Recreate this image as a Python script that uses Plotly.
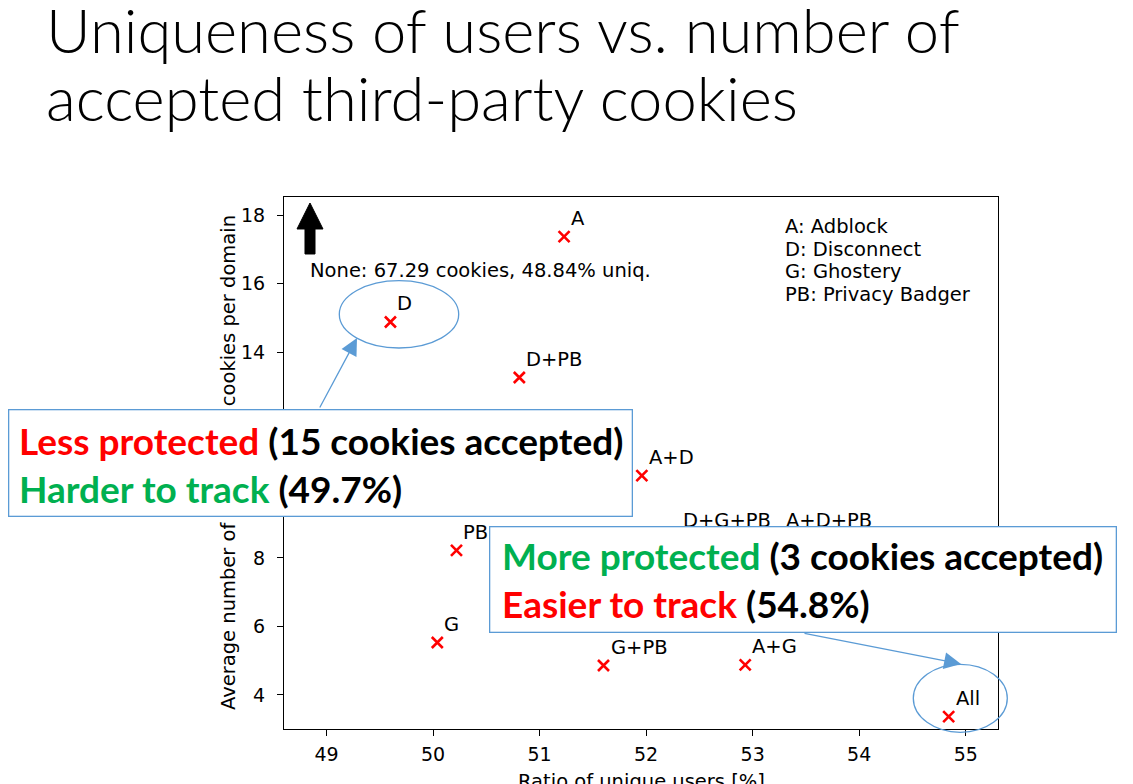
import plotly.graph_objects as go

# ---------------- data ----------------
combos = ["A", "D", "D+PB", "A+D", "PB", "D+G+PB", "A+D+PB", "G", "G+PB", "A+G", "All"]
unique_ratio = [51.23, 49.60, 50.81, 51.96, 50.22, 52.28, 53.25, 50.04, 51.60, 52.93, 54.84]
avg_cookies = [17.37, 14.88, 13.26, 10.40, 8.22, 8.55, 8.55, 5.53, 4.86, 4.88, 3.37]

x_ticks = [49, 50, 51, 52, 53, 54, 55]
y_ticks = [4, 6, 8, 10, 12, 14, 16, 18]

legend_lines = ["A: Adblock", "D: Disconnect", "G: Ghostery", "PB: Privacy Badger"]
none_note = "None: 67.29 cookies, 48.84% uniq."
title_lines = ["Uniqueness of users vs. number of", "accepted third-party cookies"]
x_title = "Ratio of unique users [%]"
y_title = "Average number of third-party cookies per domain"

RED = "#FF0000"
GREEN = "#00B050"
BLUE = "#5B9BD5"

box1_lines = [
    f"<b><span style='color:{RED}'>Less protected</span> (15 cookies accepted)</b>",
    f"<b><span style='color:{GREEN}'>Harder to track</span> (49.7%)</b>",
]
box2_lines = [
    f"<b><span style='color:{GREEN}'>More protected</span> (3 cookies accepted)</b>",
    f"<b><span style='color:{RED}'>Easier to track</span> (54.8%)</b>",
]

# ---------------- layout geometry ----------------
W, H = 1133, 784
ML, MR, MT, MB = 284, 135, 197, 55
PW, PH = W - ML - MR, H - MT - MB


def px(x):
    return (x - ML) / PW


def py(y):
    return (H - MB - y) / PH


AX_FONT = dict(family="DejaVu Sans", size=19.5, color="black")
TICK_FONT = dict(family="DejaVu Sans", size=19, color="black")
BOX_FONT = dict(family="Lato", size=37, color="black")

fig = go.Figure()
fig.add_trace(go.Scatter(
    x=unique_ratio, y=avg_cookies, mode="markers",
    marker=dict(symbol="x-thin", size=11, line=dict(width=2.6, color=RED), color=RED),
    hoverinfo="skip", showlegend=False,
))

annotations = []
# y-axis title (drawn first so the callout box covers it)
annotations.append(dict(text=y_title, x=px(228), y=py(463), xref="paper", yref="paper",
                        textangle=-90, showarrow=False, font=AX_FONT,
                        xanchor="center", yanchor="middle"))
annotations.append(dict(text=x_title, x=px(641), y=py(781), xref="paper", yref="paper",
                        showarrow=False, font=AX_FONT, xanchor="center", yanchor="middle"))
# point labels
for name, xv, yv in zip(combos, unique_ratio, avg_cookies):
    annotations.append(dict(text=name, x=xv, y=yv, xref="x", yref="y", showarrow=False,
                            xanchor="left", yanchor="middle", xshift=5, yshift=18,
                            font=AX_FONT))
# note and legend
annotations.append(dict(text=none_note, x=px(308), y=py(270), xref="paper", yref="paper",
                        showarrow=False, xanchor="left", yanchor="middle", font=AX_FONT))
for i, t in enumerate(legend_lines):
    annotations.append(dict(text=t, x=px(783), y=py(227 + 22.4 * i), xref="paper", yref="paper",
                            showarrow=False, xanchor="left", yanchor="middle", font=AX_FONT))
# title
for i, t in enumerate(title_lines):
    annotations.append(dict(text=t, x=px(44), y=py(29 + 68 * i), xref="paper", yref="paper",
                            showarrow=False, xanchor="left", yanchor="middle",
                            font=dict(family="Lato", size=61.5, color="black", weight=300)))
# callout boxes
for (l, t, r, b) in [(8, 409, 632.5, 517), (488.5, 526, 1116, 633.3)]:
    annotations.append(dict(text=" ", x=px(l), y=py(t), xref="paper", yref="paper",
                            showarrow=False, xanchor="left", yanchor="top",
                            width=r - l - 2.6, height=b - t - 2.6,
                            bgcolor="white", bordercolor=BLUE, borderwidth=1.3, borderpad=0))
for lines, lx, ys in [(box1_lines, 17, (440, 488)), (box2_lines, 500, (555, 603))]:
    for t, yy in zip(lines, ys):
        annotations.append(dict(text=t, x=px(lx), y=py(yy), xref="paper", yref="paper",
                                showarrow=False, xanchor="left", yanchor="middle", font=BOX_FONT))
# callout arrows
for (hx, hy, tx, ty) in [(357, 338, 319, 409), (961, 664, 803, 633)]:
    annotations.append(dict(text="", x=px(hx), y=py(hy), xref="paper", yref="paper",
                            showarrow=True, ax=tx - hx, ay=ty - hy, arrowhead=2,
                            arrowsize=2.6, arrowwidth=1.3, arrowcolor=BLUE))

shapes = []
# ellipses around D and All
for (l, t, r, b) in [(339.3, 280.7, 458.7, 348), (913.3, 664.3, 1007.3, 732.3)]:
    shapes.append(dict(type="circle", xref="paper", yref="paper",
                       x0=px(l), x1=px(r), y0=py(b), y1=py(t),
                       line=dict(color=BLUE, width=1.3), fillcolor="rgba(0,0,0,0)"))
# big black arrow (None is far above)
pts = [(305, 254), (305, 229), (297, 229), (310, 203), (323, 229), (315, 229), (315, 254)]
path = "M " + " L ".join(f"{px(a):.5f},{py(b):.5f}" for a, b in pts) + " Z"
shapes.append(dict(type="path", xref="paper", yref="paper", path=path,
                   fillcolor="black", line=dict(color="black", width=1)))

axis_common = dict(showgrid=False, zeroline=False, showline=True, linecolor="black",
                   linewidth=1.2, mirror=True, ticks="outside", ticklen=6, tickwidth=1.2,
                   tickcolor="black", tickfont=TICK_FONT)

fig.update_layout(
    width=W, height=H,
    margin=dict(l=ML, r=MR, t=MT, b=MB, autoexpand=False),
    paper_bgcolor="white", plot_bgcolor="white",
    xaxis=dict(range=[48.601, 55.303], tickvals=x_ticks, ticktext=[str(v) for v in x_ticks],
               ticklabelstandoff=2, **axis_common),
    yaxis=dict(range=[3.008, 18.525], tickvals=y_ticks, ticktext=[str(v) for v in y_ticks],
               ticklabelstandoff=8, **axis_common),
    annotations=annotations, shapes=shapes, showlegend=False,
)

fig.write_html("out.html")
